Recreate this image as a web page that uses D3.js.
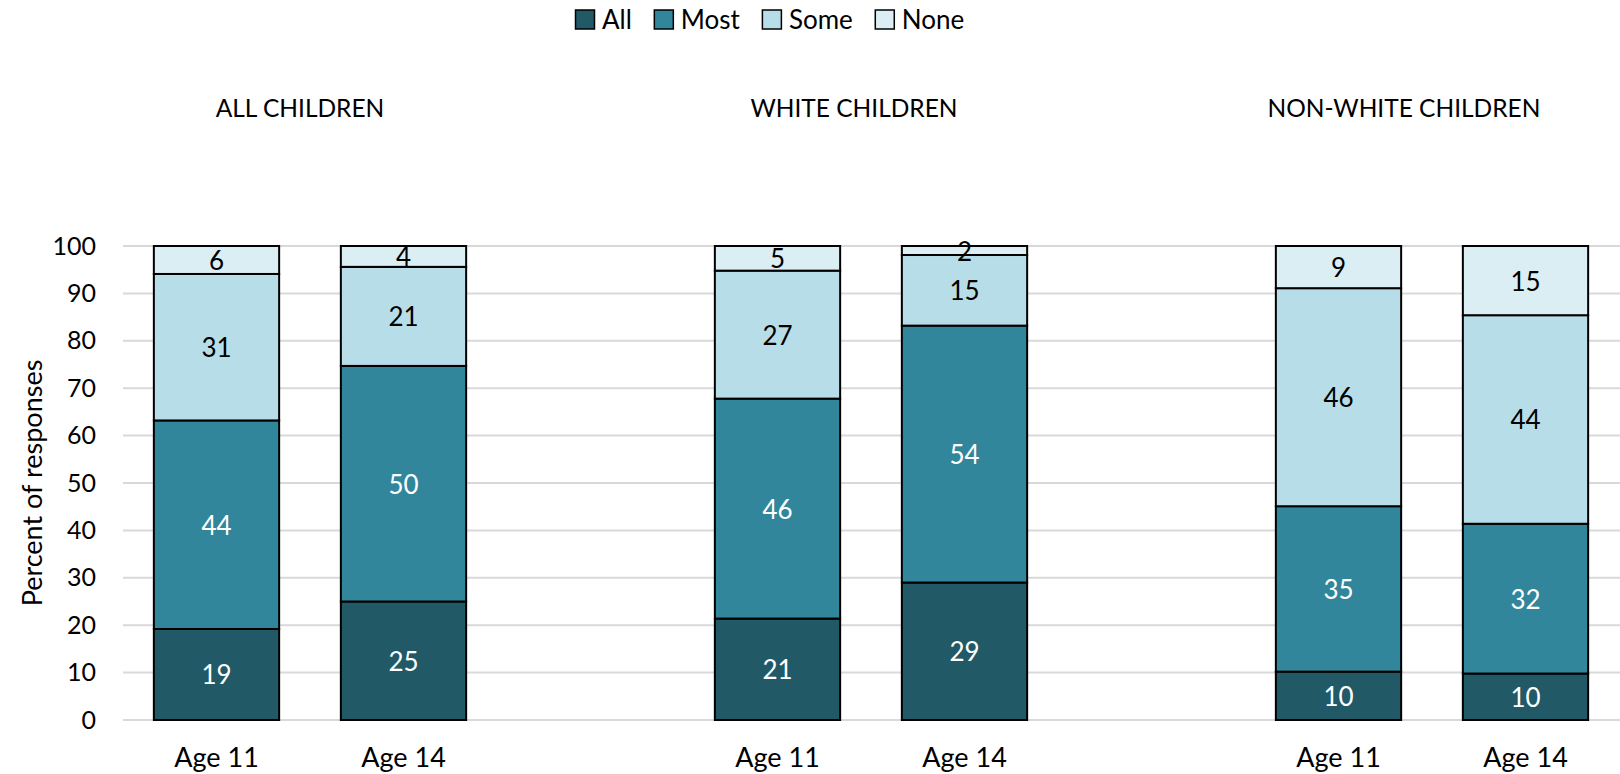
<!DOCTYPE html>
<html>
<head>
<meta charset="utf-8">
<script src="https://cdn.jsdelivr.net/npm/d3@7"></script>
<style>
  body { margin: 0; background: #fff; }
  svg text { font-family: Lato, "Open Sans", sans-serif; }
</style>
</head>
<body>
<div id="chart"></div>
<script>
// data (percent of responses)
var groups = ["ALL CHILDREN", "WHITE CHILDREN", "NON-WHITE CHILDREN"];
var ages = ["Age 11", "Age 14"];
var seriesNames = ["All", "Most", "Some", "None"];
var allVals  = [19.2, 25.0, 21.4, 29.0, 10.2, 9.8];
var mostVals = [44.0, 49.7, 46.4, 54.2, 34.9, 31.6];
var someVals = [30.9, 20.9, 27.0, 14.9, 46.0, 44.0];
var noneVals = [5.9, 4.4, 5.2, 1.9, 8.9, 14.6];
var yTicks = [0, 10, 20, 30, 40, 50, 60, 70, 80, 90, 100];

var colors = ["#215967", "#31869b", "#b7dde8", "#daeef3"];
var labelColors = ["#fff", "#fff", "#000", "#000"];

var W = 1620, H = 774;
var margin = {top: 246, right: 1, bottom: 54, left: 123};

var svg = d3.select("#chart").append("svg")
    .attr("width", W)
    .attr("height", H);

// build the slots: two bars per group with an empty slot between groups
var slots = [];
var rows = [];
var k = 0;
groups.forEach(function(g, gi){
  ages.forEach(function(a){
    var key = g + "|" + a;
    slots.push(key);
    rows.push({key: key, group: g, age: a,
      All: allVals[k], Most: mostVals[k], Some: someVals[k], None: noneVals[k]});
    k++;
  });
  if (gi < groups.length - 1) slots.push("gap" + gi);
});

var x = d3.scaleBand()
    .domain(slots)
    .range([margin.left, W - margin.right])
    .paddingInner(0.33)
    .paddingOuter(0.165);

var y = d3.scaleLinear()
    .domain([0, 100])
    .range([H - margin.bottom, margin.top]);

// gridlines
svg.append("g")
  .selectAll("line")
  .data(yTicks)
  .enter().append("line")
    .attr("x1", margin.left)
    .attr("x2", W)
    .attr("y1", function(d){ return y(d); })
    .attr("y2", function(d){ return y(d); })
    .style("stroke", "#d9d9d9")
    .style("stroke-width", 2);

// y axis labels
var yAxis = d3.axisLeft(y).tickValues(yTicks).tickSize(0).tickPadding(27);
svg.append("g")
    .attr("transform", "translate(" + margin.left + ",0)")
    .call(yAxis)
    .call(function(g){ g.select(".domain").remove(); })
    .selectAll("text")
      .style("font-family", "Lato, 'Open Sans', sans-serif")
      .style("font-size", "25px")
      .style("fill", "#000");

// x axis labels (only the real bars)
svg.append("g")
  .selectAll("text")
  .data(rows)
  .enter().append("text")
    .attr("x", function(d){ return x(d.key) + x.bandwidth() / 2; })
    .attr("y", 756)
    .attr("text-anchor", "middle")
    .attr("dominant-baseline", "central")
    .style("font-size", "27px")
    .text(function(d){ return d.age; });

// axis title
svg.append("text")
    .attr("transform", "translate(31," + ((margin.top + H - margin.bottom) / 2) + ") rotate(-90)")
    .attr("text-anchor", "middle")
    .attr("dominant-baseline", "central")
    .style("font-size", "27px")
    .text("Percent of responses");

// group titles (text boxes sit a bit left of the group middle)
var titleShift = [-10, -17, -28];
svg.append("g")
  .selectAll("text")
  .data(groups)
  .enter().append("text")
    .attr("x", function(g, i){
      var a = x(g + "|" + ages[0]), b = x(g + "|" + ages[1]);
      return (a + b) / 2 + x.bandwidth() / 2 + titleShift[i];
    })
    .attr("y", 107)
    .attr("text-anchor", "middle")
    .attr("dominant-baseline", "central")
    .style("font-size", "24.5px")
    .text(function(g){ return g; });

// stacked bars
var stack = d3.stack().keys(seriesNames);
var layers = stack(rows);

var layer = svg.append("g")
  .selectAll("g")
  .data(layers)
  .enter().append("g")
    .style("fill", function(d, i){ return colors[i]; });

layer.selectAll("rect")
  .data(function(d){ return d; })
  .enter().append("rect")
    .attr("x", function(d){ return x(d.data.key); })
    .attr("width", x.bandwidth())
    .attr("y", function(d){ return y(d[1]); })
    .attr("height", function(d){ return y(d[0]) - y(d[1]); })
    .style("stroke", "#000")
    .style("stroke-width", 2);

// value labels
layers.forEach(function(l, i){
  svg.append("g")
    .selectAll("text")
    .data(l)
    .enter().append("text")
      .attr("x", function(d){ return x(d.data.key) + x.bandwidth() / 2; })
      .attr("y", function(d){ return y((d[0] + d[1]) / 2); })
      .attr("text-anchor", "middle")
      .attr("dominant-baseline", "central")
      .style("font-size", "26px")
      .style("fill", labelColors[i])
      .text(function(d){ return Math.round(d[1] - d[0]); });
});

// legend
var legend = svg.append("g").attr("transform", "translate(575,0)");
var lx = 0;
seriesNames.forEach(function(name, i){
  var item = legend.append("g").attr("transform", "translate(" + lx + ",0)");
  item.append("rect")
    .attr("x", 0.5)
    .attr("y", 10)
    .attr("width", 19)
    .attr("height", 19)
    .style("fill", colors[i])
    .style("stroke", "#000")
    .style("stroke-width", 1.5);
  var t = item.append("text")
    .attr("x", 27)
    .attr("y", 19)
    .attr("dominant-baseline", "central")
    .style("font-size", "26px")
    .text(name);
  lx += 27 + t.node().getComputedTextLength() + 22;
});
</script>
</body>
</html>
